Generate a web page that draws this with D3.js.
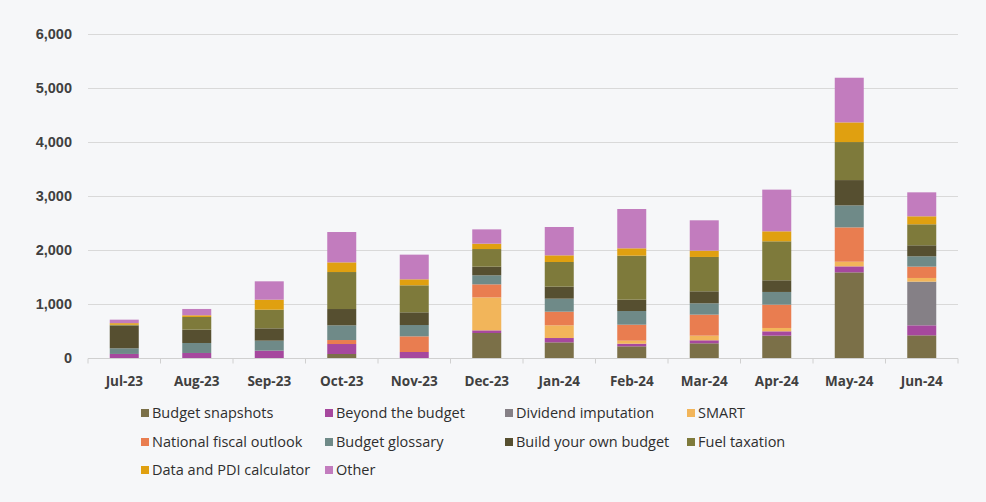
<!DOCTYPE html>
<html>
<head>
<meta charset="utf-8">
<script src="https://cdn.jsdelivr.net/npm/d3@7"></script>
<style>
  html, body { margin: 0; padding: 0; background: #f6f7f9; }
  svg { display: block; }
</style>
</head>
<body>
<svg id="chart" width="986" height="502"></svg>
<script>
// Monthly page views by tool, stacked
const months = ["Jul-23","Aug-23","Sep-23","Oct-23","Nov-23","Dec-23","Jan-24","Feb-24","Mar-24","Apr-24","May-24","Jun-24"];

const budgetSnapshots     = [0, 0, 0, 74, 0, 463, 290, 216, 272, 414, 1586, 420];
const beyondTheBudget     = [75, 93, 136, 185, 111, 49, 80, 49, 56, 80, 111, 185];
const dividendImputation  = [0, 0, 0, 0, 0, 0, 0, 0, 0, 0, 0, 809];
const smart               = [0, 0, 0, 0, 0, 611, 235, 56, 86, 62, 86, 68];
const nationalFiscal      = [0, 0, 0, 74, 290, 241, 253, 296, 389, 432, 636, 210];
const budgetGlossary      = [105, 185, 185, 272, 210, 167, 241, 253, 210, 235, 407, 191];
const buildYourOwn        = [420, 247, 228, 302, 235, 160, 222, 210, 222, 216, 469, 204];
const fuelTaxation        = [15, 235, 346, 685, 500, 327, 457, 815, 636, 722, 704, 389];
const dataPdiCalculator   = [30, 31, 185, 179, 111, 99, 123, 136, 117, 185, 364, 148];
const other               = [65, 117, 340, 562, 457, 265, 525, 728, 562, 772, 827, 444];

const seriesNames = ["Budget snapshots","Beyond the budget","Dividend imputation","SMART","National fiscal outlook","Budget glossary","Build your own budget","Fuel taxation","Data and PDI calculator","Other"];
const seriesValues = [budgetSnapshots, beyondTheBudget, dividendImputation, smart, nationalFiscal, budgetGlossary, buildYourOwn, fuelTaxation, dataPdiCalculator, other];
const seriesColors = ["#7b7048","#a6489e","#858086","#f2b55a","#e97d50","#6f8a88","#564f30","#7e7a3b","#e0a010","#c27cbe"];

const yTicks = [0, 1000, 2000, 3000, 4000, 5000, 6000];

const svg = d3.select("#chart");
const plot = { left: 88, right: 958, top: 34, bottom: 358 };

const table = months.map((m, i) => {
  const row = { month: m };
  seriesNames.forEach((s, k) => row[s] = seriesValues[k][i]);
  return row;
});

const x = d3.scaleBand().domain(months).range([plot.left, plot.right]).paddingInner(0.6).paddingOuter(0.3);
const y = d3.scaleLinear().domain([0, 6000]).range([plot.bottom, plot.top]);

// gridlines
svg.append("g").selectAll("line").data(yTicks.filter(d => d > 0)).join("line")
  .attr("x1", plot.left).attr("x2", plot.right)
  .attr("y1", d => y(d) + 0.5).attr("y2", d => y(d) + 0.5)
  .attr("stroke", "#d9d9d9").attr("stroke-width", 1);

// y labels
const yAxis = d3.axisLeft(y).tickValues(yTicks).tickFormat(d3.format(",")).tickSize(0).tickPadding(16);
const gy = svg.append("g").attr("transform", `translate(${plot.left},0)`).call(yAxis);
gy.select(".domain").remove();
gy.selectAll("text")
  .attr("font-family", "'Liberation Sans', Arial, sans-serif")
  .attr("font-size", 14.5).attr("font-weight", "bold").attr("fill", "#404040");

// stacked bars
const stack = d3.stack().keys(seriesNames)(table);
svg.append("g").selectAll("g").data(stack).join("g")
  .attr("fill", (d, i) => seriesColors[i])
  .selectAll("rect").data(d => d).join("rect")
  .attr("x", d => x(d.data.month))
  .attr("width", x.bandwidth())
  .attr("y", d => y(d[1]))
  .attr("height", d => Math.max(0, y(d[0]) - y(d[1])));

// x axis baseline with ticks between categories
const gx = svg.append("g").attr("transform", `translate(0,${plot.bottom + 0.5})`);
gx.append("line").attr("x1", plot.left).attr("x2", plot.right).attr("stroke", "#d0d0d0");
const bounds = months.map((m, i) => plot.left + x.step() * i).concat([plot.right]);
gx.selectAll("line.tick").data(bounds).join("line").attr("class", "tick")
  .attr("x1", d => d).attr("x2", d => d).attr("y1", 0).attr("y2", 5)
  .attr("stroke", "#d0d0d0");
gx.selectAll("text").data(months).join("text")
  .attr("x", d => x(d) + x.bandwidth() / 2)
  .attr("y", 27)
  .attr("text-anchor", "middle")
  .attr("font-family", "'Open Sans', 'Liberation Sans', sans-serif")
  .attr("font-size", 13.5).attr("font-weight", "bold").attr("fill", "#404040")
  .text(d => d);

// legend
const legendCols = [141, 325, 505, 687];
const legendRows = [413, 442, 470];
const lg = svg.append("g").selectAll("g").data(seriesNames).join("g")
  .attr("transform", (d, i) => `translate(${legendCols[i % 4]},${legendRows[Math.floor(i / 4)]})`);
lg.append("rect").attr("x", 0).attr("y", -4).attr("width", 8).attr("height", 8)
  .attr("fill", (d, i) => seriesColors[i]);
lg.append("text").attr("x", 11).attr("y", 0).attr("dy", "0.35em")
  .attr("font-family", "'Open Sans', 'Liberation Sans', sans-serif")
  .attr("font-size", 14.5).attr("fill", "#2e2e2e")
  .text(d => d);
</script>
</body>
</html>
